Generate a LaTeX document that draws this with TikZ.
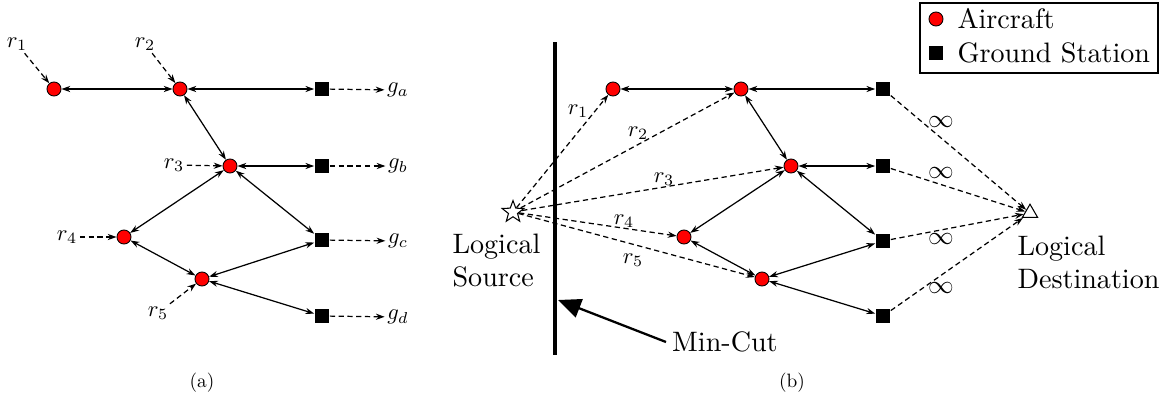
\documentclass[tikz,border=0pt]{standalone}
\usetikzlibrary{arrows.meta,shapes.geometric}
\tikzset{
  aircraft/.style={circle,draw,fill=red,minimum size=8pt,inner sep=0pt,line width=0.5pt},
  ground/.style={rectangle,fill=black,minimum size=8.5pt,inner sep=0pt},
  lbl/.style={inner sep=1pt,font=\fontsize{10}{12}\selectfont,scale=1.28,transform shape},
  caption/.style={font=\fontsize{10}{12}\selectfont,scale=1.1,transform shape},
  bigtext/.style={inner sep=0pt,align=left,font=\fontsize{10}{12}\selectfont,scale=1.6,transform shape},
  link/.style={{Stealth[length=5pt,width=3.5pt]}-{Stealth[length=5pt,width=3.5pt]},line width=0.7pt},
  flow/.style={-{Stealth[length=5pt,width=3.5pt]},dash pattern=on 3pt off 2pt,line width=0.7pt},
}
\begin{document}
\begin{tikzpicture}[x=0.02cm,y=-0.02cm]
\useasboundingbox (0,0) rectangle (1161,397);

% (a)
\node[aircraft] (ac1) at (54,89) {};
\node[aircraft] (ac2) at (180,89) {};
\node[aircraft] (ac3) at (230,166) {};
\node[aircraft] (ac4) at (124,237) {};
\node[aircraft] (ac5) at (202,279) {};
\node[ground] (gs1) at (322,89) {};
\node[ground] (gs2) at (322,166) {};
\node[ground] (gs3) at (322,240) {};
\node[ground] (gs4) at (322,316) {};
\draw[link] (ac1) -- (ac2);
\draw[link] (ac2) -- (gs1);
\draw[link] (ac2) -- (ac3);
\draw[link] (ac3) -- (gs2);
\draw[link] (ac3) -- (ac4);
\draw[link] (ac3) -- (gs3);
\draw[link] (ac4) -- (ac5);
\draw[link] (ac5) -- (gs3);
\draw[link] (ac5) -- (gs4);

\node[lbl] (ra1) at (17,44) {$r_1$};
\node[lbl] (ra2) at (145,44) {$r_2$};
\node[lbl] (ra3) at (174,165) {$r_3$};
\node[lbl] (ra4) at (67,237) {$r_4$};
\node[lbl] (ra5) at (158,313) {$r_5$};
\draw[flow] (ra1) -- (ac1);
\draw[flow] (ra2) -- (ac2);
\draw[flow] (ra3) -- (ac3);
\draw[flow] (ra4) -- (ac4);
\draw[flow] (ra5) -- (ac5);

\node[lbl] (ga) at (398,90) {$g_a$};
\node[lbl] (gb) at (398,166) {$g_b$};
\node[lbl] (gc) at (398,241) {$g_c$};
\node[lbl] (gd) at (398,317) {$g_d$};
\draw[flow] (gs1) -- (ga);
\draw[flow] (gs2) -- (gb);
\draw[flow] (gs3) -- (gc);
\draw[flow] (gs4) -- (gd);

\node[caption] (capa) at (202,383) {(a)};

% (b)
\node[aircraft] (bc1) at (613,89) {};
\node[aircraft] (bc2) at (741,89) {};
\node[aircraft] (bc3) at (791,166) {};
\node[aircraft] (bc4) at (684,237) {};
\node[aircraft] (bc5) at (762,279) {};
\node[ground] (bs1) at (883,89) {};
\node[ground] (bs2) at (883,166) {};
\node[ground] (bs3) at (883,241) {};
\node[ground] (bs4) at (883,316) {};
\draw[link] (bc1) -- (bc2);
\draw[link] (bc2) -- (bs1);
\draw[link] (bc2) -- (bc3);
\draw[link] (bc3) -- (bs2);
\draw[link] (bc3) -- (bc4);
\draw[link] (bc3) -- (bs3);
\draw[link] (bc4) -- (bc5);
\draw[link] (bc5) -- (bs3);
\draw[link] (bc5) -- (bs4);

\node[star,star points=5,star point ratio=2.4,draw,minimum size=13pt,inner sep=0pt,line width=0.6pt] (src) at (513,212) {};
\node[bigtext,anchor=north west] (srctext) at (452,233) {Logical\\Source};
\draw[flow] (src) -- (bc1);
\draw[flow] (src) -- (bc2);
\draw[flow] (src) -- (bc3);
\draw[flow] (src) -- (bc4);
\draw[flow] (src) -- (bc5);
\node[lbl] (rb1) at (578,111) {$r_1$};
\node[lbl] (rb2) at (638,133) {$r_2$};
\node[lbl] (rb3) at (664,179) {$r_3$};
\node[lbl] (rb4) at (624,221) {$r_4$};
\node[lbl] (rb5) at (633,260) {$r_5$};

\node[regular polygon,regular polygon sides=3,draw,minimum size=10pt,inner sep=0pt,line width=0.6pt] (dst) at (1030,213) {};
\node[bigtext,anchor=north west] (dsttext) at (1017,235) {Logical\\Destination};
\draw[flow] (bs1) -- (dst);
\draw[flow] (bs2) -- (dst);
\draw[flow] (bs3) -- (dst);
\draw[flow] (bs4) -- (dst);
\node[lbl,scale=1.14] (inf1) at (941,122) {$\infty$};
\node[lbl,scale=1.14] (inf2) at (941,173) {$\infty$};
\node[lbl,scale=1.14] (inf3) at (941,239) {$\infty$};
\node[lbl,scale=1.14] (inf4) at (941,288) {$\infty$};

% min-cut
\draw[line width=2.3pt] (555,42) -- (555,355);
\node[bigtext,inner sep=2pt,anchor=west] (cut) at (666,342) {Min-Cut};
\coordinate (cuttip) at (558,300);
\draw[line width=1.3pt,-{Triangle[length=13pt,width=11pt]}] (cut.west) -- (cuttip);

\node[caption] (capb) at (792,383) {(b)};

% legend
\draw[line width=0.6pt] (920,3) rectangle (1158,73);
\node[aircraft] (legac) at (936,19) {};
\node[ground] (leggs) at (936,53) {};
\node[bigtext,anchor=west] at (957,19) {Aircraft};
\node[bigtext,anchor=west] at (957,53) {Ground Station};
\end{tikzpicture}
\end{document}
